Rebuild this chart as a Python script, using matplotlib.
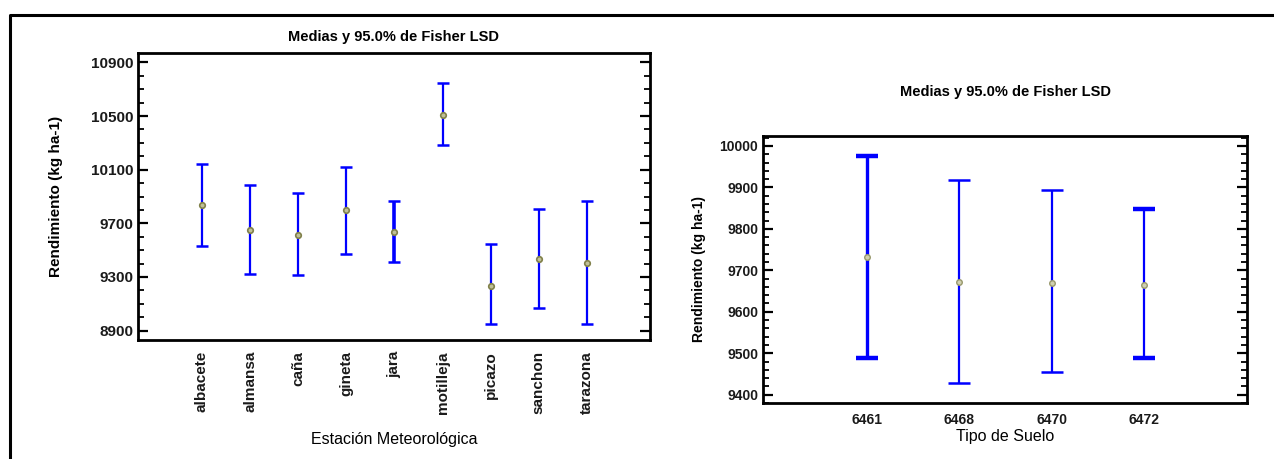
import matplotlib.pyplot as plt
from matplotlib.lines import Line2D
from matplotlib.ticker import MultipleLocator

plt.rcParams['font.family'] = ['Liberation Sans', 'DejaVu Sans']

# Left panel: means and 95% LSD intervals by weather station
estaciones = ['albacete', 'almansa', 'caña', 'gineta', 'jara', 'motilleja',
              'picazo', 'sanchon', 'tarazona']
medias_est = [9834, 9650, 9615, 9802, 9638, 10507, 9235, 9434, 9406]
inf_est = [9531, 9325, 9312, 9471, 9411, 10284, 8947, 9069, 8947]
sup_est = [10140, 9988, 9928, 10117, 9866, 10748, 9543, 9804, 9866]

# Right panel: means and 95% LSD intervals by soil type
suelos = ['6461', '6468', '6470', '6472']
medias_suelo = [9731, 9673, 9669, 9665]
inf_suelo = [9489, 9428, 9454, 9489]
sup_suelo = [9975, 9919, 9893, 9847]

titulo = 'Medias y 95.0% de Fisher LSD'
ylab = 'Rendimiento (kg ha-1)'

fig = plt.figure(figsize=(12.74, 4.59), dpi=100)

# outer frame (top and left edges)
fig.add_artist(Line2D([10 / 1274, 10 / 1274, 1.0], [0.0, 1 - 15 / 459, 1 - 15 / 459],
                      transform=fig.transFigure, color='black', lw=2.2))

blue = '#0000ff'
olive = '#80804a'


def style_axes(ax, minor, size):
    for s in ax.spines.values():
        s.set_linewidth(2.0)
    ax.yaxis.set_minor_locator(MultipleLocator(minor))
    ax.tick_params(axis='y', which='major', direction='in', left=True, right=True,
                   length=7, width=1.6, labelsize=size)
    ax.tick_params(axis='y', which='minor', direction='in', left=True, right=True,
                   length=4.5, width=1.3)
    ax.tick_params(axis='x', which='both', length=0, labelsize=size)
    for lab in ax.get_yticklabels() + ax.get_xticklabels():
        lab.set_fontweight('bold')
        lab.set_color('#1a1a1a')


# ---- left chart
ax1 = fig.add_axes([138 / 1274, 1 - 340 / 459, (650 - 138) / 1274, (340 - 53) / 459])
x1 = list(range(len(estaciones)))
lw1 = [1.6, 1.6, 1.6, 1.6, 2.6, 1.6, 1.6, 1.6, 1.6]
for i in x1:
    ax1.errorbar(x1[i], medias_est[i],
                 yerr=[[medias_est[i] - inf_est[i]], [sup_est[i] - medias_est[i]]],
                 fmt='none', ecolor=blue, elinewidth=lw1[i], capsize=4.5, capthick=1.8)
ax1.plot(x1, medias_est, 'o', ms=4, mfc='#c0c098', mec=olive, mew=1.2, ls='none')
ax1.set_xlim(-1.33, 9.31)
ax1.set_ylim(8830, 10970)
ax1.set_yticks([8900, 9300, 9700, 10100, 10500, 10900])
ax1.set_xticks(x1)
ax1.set_xticklabels(estaciones, rotation=90)
style_axes(ax1, 100, 11)
ax1.tick_params(axis='x', pad=8)
ax1.set_title(titulo, fontsize=10.5, fontweight='bold', pad=9)
ax1.set_ylabel(ylab, fontsize=11, fontweight='bold', labelpad=20)
ax1.set_xlabel('Estación Meteorológica', fontsize=11.5, labelpad=13)

# ---- right chart
ax2 = fig.add_axes([763 / 1274, 1 - 403 / 459, (1247 - 763) / 1274, (403 - 136) / 459])
x2 = list(range(len(suelos)))
lw2 = [2.4, 1.6, 1.6, 1.6]
ct2 = [3.2, 1.8, 1.8, 3.2]
for i in x2:
    ax2.errorbar(x2[i], medias_suelo[i],
                 yerr=[[medias_suelo[i] - inf_suelo[i]], [sup_suelo[i] - medias_suelo[i]]],
                 fmt='none', ecolor=blue, elinewidth=lw2[i], capsize=8, capthick=ct2[i])
ax2.plot(x2, medias_suelo, 'o', ms=4, mfc='#d0d0b0', mec='#98986c', mew=1.0, ls='none')
ax2.set_xlim(-1.12, 4.11)
ax2.set_ylim(9380, 10024)
ax2.set_yticks([9400, 9500, 9600, 9700, 9800, 9900, 10000])
ax2.set_xticks(x2)
ax2.set_xticklabels(suelos)
style_axes(ax2, 20, 10)
ax2.tick_params(axis='x', pad=7)
ax2.set_title(titulo, fontsize=10.5, fontweight='bold', pad=29)
ax2.set_ylabel(ylab, fontsize=10, fontweight='bold', labelpad=10)
ax2.set_xlabel('Tipo de Suelo', fontsize=11.5, labelpad=2)

fig.savefig('out.png', dpi=100)
